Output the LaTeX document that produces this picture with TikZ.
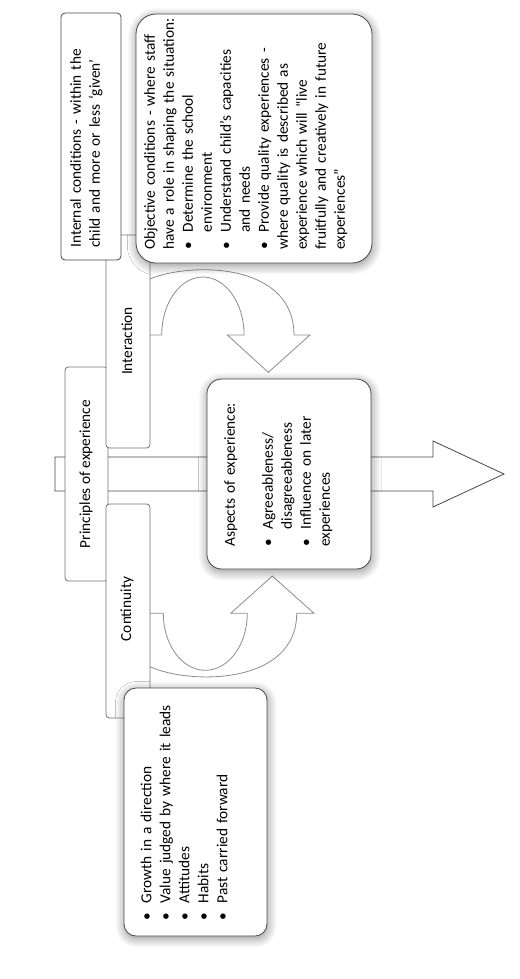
\documentclass[tikz,border=0pt]{standalone}
\usepackage{fontspec}
\setmainfont{Carlito}
\usetikzlibrary{shadows.blur}
\setlength{\parindent}{0pt}
% bullet line with hanging indent
\newcommand{\bitem}[1]{\par\hangindent=13pt\hangafter=1\noindent\makebox[13pt][l]{•}#1}

\begin{document}
\begin{tikzpicture}[x=0.75pt, y=-0.75pt,
    darkbox/.style={draw=black!72, fill=white, line width=0.6pt},
    tabbox/.style={draw=black!55, fill=white, line width=0.6pt, rounded corners=2.5pt},
    softshadow/.style={blur shadow={shadow blur steps=12, shadow xshift=0.5pt, shadow yshift=-2pt, shadow blur radius=7pt, shadow opacity=45}},
    curve/.style={draw=black!45, line width=0.6pt},
    txt/.style={rotate=90, anchor=north west, inner sep=0pt, align=left, text=black, font=\fontsize{11.5}{14.25}\selectfont},
    lbl/.style={rotate=90, inner sep=0pt, text=black, font=\fontsize{11.5}{14.25}\selectfont}]
    \useasboundingbox (0,0) rectangle (519,979);
    % big arrow to the right
    \draw[darkbox] (55,457) -- (433,457) -- (433,441) -- (504,474) -- (433,507) -- (433,491) -- (55,491) -- cycle;
    % principles, interaction, continuity
    \draw[tabbox] (65,367) rectangle (108,581);
    \node[lbl] (principles) at (86,474) {Principles of experience};
    \draw[tabbox] (106,235) rectangle (150,448);
    \node[lbl] (interaction) at (127,341) {Interaction};
    \draw[tabbox] (106,504) rectangle (150,718);
    \node[lbl] (continuity) at (127,609) {Continuity};
    % curved arrows
    \draw[curve] (150,335) -- (161.7,335) arc[start angle=180, end angle=360, x radius=41.2, y radius=58]
        -- (227.3,335) -- (268.3,372.3) -- (310,335) -- (294,335) .. controls (294,262) and (190,262) .. (150,279);
    \draw[curve] (150,613.3) -- (163.3,613.3) arc[start angle=180, end angle=0, x radius=42, y radius=57]
        -- (230.7,613.3) -- (272.3,576) -- (314,613.3) -- (296.7,613.3) .. controls (296.7,685) and (190,685) .. (150,666.7);
    % internal conditions
    \draw[darkbox, rounded corners=3pt] (61,13) rectangle (121,260);
    \node[txt, text width=170pt] (internal) at (70,248) {Internal conditions - within the\newline child and more or less ‘given’};
    % objective conditions
    \draw[darkbox, softshadow, rounded corners=15pt] (136,14) rectangle (372,263);
    \node[txt, text width=185pt] (objective) at (144,250) {Objective conditions - where staff\newline have a role in shaping the situation:\bitem{Determine the school\newline environment}\bitem{Understand child’s capacities\newline and needs}\bitem{Provide quality experiences -\newline where quality is described as\newline experience which will “live\newline fruitfully and creatively in future\newline experiences”}};
    % aspects of experience
    \draw[darkbox, softshadow, rounded corners=11pt] (207,379) rectangle (371,569);
    \node[txt, text width=130pt] (aspects) at (224,547) {Aspects of experience:\par\vspace{14.25pt}\bitem{Agreeableness/\newline disagreeableness}\bitem{Influence on later\newline experiences}};
    % continuity list
    \draw[darkbox, softshadow, rounded corners=9pt] (124,688) rectangle (267,936);
    \node[txt, text width=180pt] (growth) at (132,921) {\bitem{Growth in a direction}\bitem{Value judged by where it leads}\bitem{Attitudes}\bitem{Habits}\bitem{Past carried forward}};
\end{tikzpicture}
\end{document}
